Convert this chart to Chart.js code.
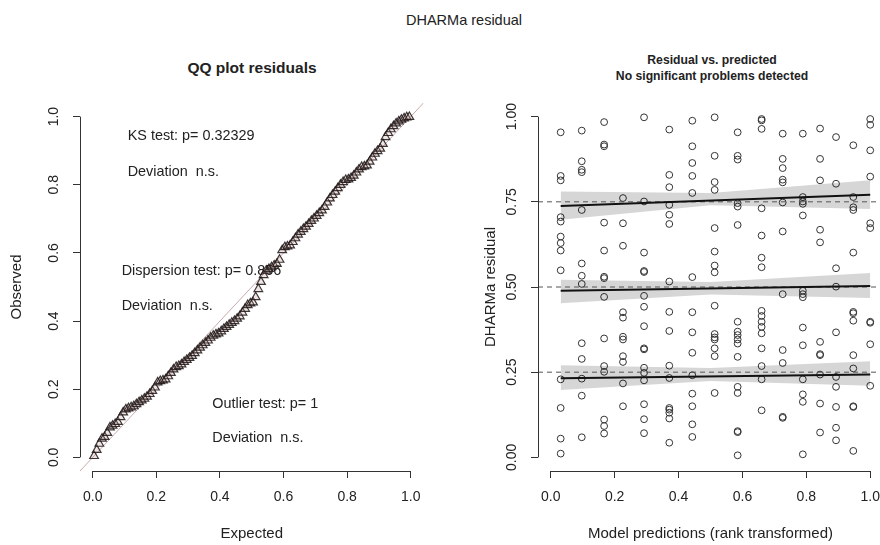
<!DOCTYPE html>
<html>
<head>
<meta charset="utf-8">
<script src="https://cdn.jsdelivr.net/npm/chart.js@4"></script>
<style>
  html, body { margin: 0; padding: 0; width: 880px; height: 545px; overflow: hidden; background: #fff; }
  body { position: relative; font-family: "Liberation Sans", Arial, sans-serif; color: #222; }
  canvas { position: absolute; top: 0; }
  #qq { left: 0; }
  #rv { left: 440px; }
  .txt { position: absolute; white-space: nowrap; transform: translate(-50%, -50%); text-align: center; }
  #main { left: 464px; top: 20px; font-size: 14.5px; }
  #t1 { left: 252px; top: 68px; font-size: 15.5px; font-weight: bold; }
  #t2 { left: 712px; top: 68px; font-size: 12.2px; font-weight: bold; line-height: 16px; }
</style>
</head>
<body>
<div class="txt" id="main">DHARMa residual</div>
<div class="txt" id="t1">QQ plot residuals</div>
<div class="txt" id="t2">Residual vs. predicted<br>No significant problems detected</div>
<canvas id="qq" width="440" height="545"></canvas>
<canvas id="rv" width="460" height="545"></canvas>
<script>
// ---------- QQ panel ----------
// expected uniform quantiles and the sorted scaled residuals
const qqExpected = [
  0.0042, 0.0125, 0.0208, 0.0292, 0.0375, 0.0458, 0.0542, 0.0625, 0.0708, 0.0792,
  0.0875, 0.0958, 0.1042, 0.1125, 0.1208, 0.1292, 0.1375, 0.1458, 0.1542, 0.1625,
  0.1708, 0.1792, 0.1875, 0.1958, 0.2042, 0.2125, 0.2208, 0.2292, 0.2375, 0.2458,
  0.2542, 0.2625, 0.2708, 0.2792, 0.2875, 0.2958, 0.3042, 0.3125, 0.3208, 0.3292,
  0.3375, 0.3458, 0.3542, 0.3625, 0.3708, 0.3792, 0.3875, 0.3958, 0.4042, 0.4125,
  0.4208, 0.4292, 0.4375, 0.4458, 0.4542, 0.4625, 0.4708, 0.4792, 0.4875, 0.4958,
  0.5042, 0.5125, 0.5208, 0.5292, 0.5375, 0.5458, 0.5542, 0.5625, 0.5708, 0.5792,
  0.5875, 0.5958, 0.6042, 0.6125, 0.6208, 0.6292, 0.6375, 0.6458, 0.6542, 0.6625,
  0.6708, 0.6792, 0.6875, 0.6958, 0.7042, 0.7125, 0.7208, 0.7292, 0.7375, 0.7458,
  0.7542, 0.7625, 0.7708, 0.7792, 0.7875, 0.7958, 0.8042, 0.8125, 0.8208, 0.8292,
  0.8375, 0.8458, 0.8542, 0.8625, 0.8708, 0.8792, 0.8875, 0.8958, 0.9042, 0.9125,
  0.9208, 0.9292, 0.9375, 0.9458, 0.9542, 0.9625, 0.9708, 0.9792, 0.9875, 0.9958
];
const qqObserved = [
  0.004, 0.022, 0.040, 0.055, 0.060, 0.072, 0.088, 0.093, 0.098, 0.104,
  0.118, 0.132, 0.141, 0.144, 0.147, 0.150, 0.156, 0.162, 0.167, 0.172,
  0.178, 0.186, 0.195, 0.205, 0.220, 0.224, 0.226, 0.229, 0.238, 0.248,
  0.258, 0.265, 0.268, 0.273, 0.280, 0.286, 0.292, 0.298, 0.306, 0.314,
  0.322, 0.329, 0.336, 0.343, 0.351, 0.357, 0.361, 0.364, 0.370, 0.377,
  0.383, 0.389, 0.395, 0.400, 0.407, 0.414, 0.425, 0.436, 0.447, 0.452,
  0.455, 0.470, 0.494, 0.515, 0.535, 0.548, 0.553, 0.558, 0.563, 0.568,
  0.580, 0.608, 0.617, 0.619, 0.622, 0.632, 0.643, 0.654, 0.662, 0.670,
  0.677, 0.685, 0.694, 0.701, 0.709, 0.717, 0.725, 0.735, 0.748, 0.760,
  0.770, 0.780, 0.790, 0.800, 0.808, 0.814, 0.816, 0.820, 0.827, 0.836,
  0.845, 0.852, 0.854, 0.857, 0.868, 0.880, 0.891, 0.899, 0.906, 0.920,
  0.940, 0.952, 0.963, 0.972, 0.980, 0.986, 0.991, 0.995, 0.998, 0.999
];
const qqLine = [-0.04, 1.04];           // y = x reference
const unitTicks = [0, 0.2, 0.4, 0.6, 0.8, 1];

const testLabels = ["KS test: p= 0.32329", "Deviation  n.s.", "Dispersion test: p= 0.856",
                    "Deviation  n.s.", "Outlier test: p= 1", "Deviation  n.s."];
const testLabelX = [0.110, 0.110, 0.091, 0.091, 0.376, 0.376];
const testLabelY = [0.944, 0.838, 0.547, 0.444, 0.156, 0.056];

// ---------- residual vs predicted panel ----------
const predRank = [0.031, 0.097, 0.167, 0.226, 0.292, 0.371, 0.443, 0.513,
                  0.585, 0.660, 0.726, 0.789, 0.843, 0.893, 0.947, 1.000];
const residuals = [
  [0.954, 0.826, 0.813, 0.705, 0.692, 0.648, 0.629, 0.607, 0.549, 0.229, 0.145, 0.055, 0.011],
  [0.959, 0.869, 0.844, 0.837, 0.726, 0.569, 0.533, 0.509, 0.335, 0.289, 0.231, 0.181, 0.059],
  [0.984, 0.918, 0.913, 0.689, 0.607, 0.530, 0.526, 0.471, 0.349, 0.268, 0.251, 0.111, 0.092, 0.070],
  [0.761, 0.687, 0.621, 0.426, 0.410, 0.354, 0.346, 0.297, 0.280, 0.217, 0.150],
  [0.998, 0.751, 0.601, 0.547, 0.544, 0.474, 0.442, 0.385, 0.320, 0.317, 0.263, 0.248, 0.226, 0.156, 0.112, 0.071],
  [0.962, 0.829, 0.793, 0.741, 0.712, 0.685, 0.516, 0.427, 0.371, 0.269, 0.233, 0.145, 0.140, 0.131, 0.114, 0.043],
  [0.988, 0.913, 0.864, 0.826, 0.776, 0.529, 0.426, 0.367, 0.307, 0.241, 0.187, 0.150, 0.097, 0.060],
  [0.998, 0.885, 0.808, 0.785, 0.673, 0.604, 0.563, 0.543, 0.445, 0.362, 0.352, 0.346, 0.320, 0.297, 0.189],
  [0.954, 0.885, 0.874, 0.746, 0.736, 0.682, 0.398, 0.369, 0.359, 0.346, 0.334, 0.295, 0.207, 0.189, 0.077, 0.074, 0.006],
  [0.993, 0.989, 0.964, 0.731, 0.651, 0.586, 0.558, 0.430, 0.415, 0.398, 0.383, 0.364, 0.320, 0.268, 0.229, 0.138],
  [0.950, 0.876, 0.849, 0.815, 0.807, 0.748, 0.663, 0.479, 0.315, 0.277, 0.119, 0.116],
  [0.950, 0.764, 0.751, 0.744, 0.710, 0.489, 0.479, 0.470, 0.381, 0.329, 0.229, 0.185, 0.163, 0.009],
  [0.965, 0.876, 0.813, 0.668, 0.631, 0.339, 0.303, 0.300, 0.243, 0.158, 0.073],
  [0.940, 0.803, 0.555, 0.501, 0.367, 0.236, 0.207, 0.148, 0.087, 0.050],
  [0.916, 0.764, 0.734, 0.726, 0.601, 0.427, 0.423, 0.401, 0.300, 0.261, 0.150, 0.148, 0.019],
  [0.993, 0.976, 0.901, 0.824, 0.687, 0.673, 0.398, 0.395, 0.332, 0.210]
];

const quantiles = [0.25, 0.5, 0.75];
const qLineX = [0.031, 1.0];
const qLineY = [[0.232, 0.243], [0.489, 0.503], [0.738, 0.771]];
const bandX = [0.031, 0.5, 1.0];
const bandHi = [[0.270, 0.262, 0.282], [0.521, 0.515, 0.541], [0.780, 0.776, 0.813]];
const bandLo = [[0.198, 0.224, 0.210], [0.452, 0.478, 0.468], [0.697, 0.740, 0.729]];
const quarterTicks = [0, 0.25, 0.5, 0.75, 1];

// ---------- shared styling ----------
const FONT = "'Liberation Sans', Arial, sans-serif";
Chart.defaults.font.family = FONT;
Chart.defaults.color = "#222";

const xy = (xs, ys) => xs.map((x, i) => ({ x, y: ys[i] }));

function rAxis(opts) {
  // R-style axis: outward ticks, no box, labels only at the given ticks
  return {
    type: "linear",
    position: opts.position,
    min: -0.04, max: 1.04,
    afterBuildTicks: s => { s.ticks = opts.ticks.map(v => ({ value: v })); },
    afterFit: s => { if (opts.position === "left") s.width = opts.size; else s.height = opts.size; },
    grid: { drawOnChartArea: false, drawTicks: true, tickLength: 7, color: "#333" },
    border: { display: false },
    ticks: {
      autoSkip: false, font: { size: 14 }, color: "#222", padding: opts.pad,
      minRotation: opts.rot, maxRotation: opts.rot, crossAlign: "center",
      callback: v => v.toFixed(opts.digits)
    },
    title: { display: true, text: opts.title, font: { size: 15 }, color: "#222", padding: opts.titlePad }
  };
}

// axis lines span first to last tick only, as in base R
const axisLines = {
  id: "axisLines",
  afterDraw(chart) {
    const { ctx, chartArea: a, scales: { x, y } } = chart;
    const px = v => Math.round(v) + 0.5;
    ctx.save();
    ctx.strokeStyle = "#333";
    ctx.lineWidth = 1;
    ctx.beginPath();
    ctx.moveTo(x.getPixelForValue(x.ticks[0].value), px(a.bottom));
    ctx.lineTo(x.getPixelForValue(x.ticks[x.ticks.length - 1].value), px(a.bottom));
    ctx.moveTo(px(a.left), y.getPixelForValue(y.ticks[0].value));
    ctx.lineTo(px(a.left), y.getPixelForValue(y.ticks[y.ticks.length - 1].value));
    ctx.stroke();
    ctx.restore();
  }
};

const testText = {
  id: "testText",
  beforeDatasetsDraw(chart) {
    const { ctx, scales: { x, y } } = chart;
    ctx.save();
    ctx.font = "14.4px " + FONT;
    ctx.fillStyle = "#222";
    ctx.textBaseline = "middle";
    testLabels.forEach((t, i) => ctx.fillText(t, x.getPixelForValue(testLabelX[i]), y.getPixelForValue(testLabelY[i])));
    ctx.restore();
  }
};

const base = {
  responsive: false, animation: false, events: [],
  plugins: { legend: { display: false }, tooltip: { enabled: false } }
};

// ---------- QQ chart ----------
new Chart(document.getElementById("qq"), {
  type: "line",
  data: {
    datasets: [
      {
        data: xy(qqExpected, qqObserved), showLine: false,
        pointStyle: "triangle", pointRadius: 5, pointBorderWidth: 1.2,
        borderColor: "rgba(30,22,22,0.85)", backgroundColor: "rgba(190,150,150,0.25)", order: 1
      },
      {
        data: xy(qqLine, qqLine), borderColor: "#c9abab", borderWidth: 1,
        pointRadius: 0, order: 2
      }
    ]
  },
  options: {
    ...base,
    layout: { padding: { top: 103, right: 15, left: 0, bottom: 0 } },
    scales: {
      x: rAxis({ position: "bottom", ticks: unitTicks, size: 74, pad: 19, rot: 0, digits: 1,
                 title: "Expected", titlePad: { top: 0, bottom: 2 } }),
      y: rAxis({ position: "left", ticks: unitTicks, size: 80, pad: 9, rot: 90, digits: 1,
                 title: "Observed", titlePad: { top: 8, bottom: 0 } })
    }
  },
  plugins: [axisLines, testText]
});

// ---------- residual vs predicted chart ----------
const rvSets = [{
  data: predRank.flatMap((x, i) => residuals[i].map(y => ({ x, y }))),
  showLine: false, pointStyle: "circle", pointRadius: 3.4, pointBorderWidth: 1,
  borderColor: "#333", backgroundColor: "rgba(0,0,0,0)", order: 10
}];
quantiles.forEach((q, k) => {
  rvSets.push({ data: xy(bandX, bandHi[k]), borderWidth: 0, borderColor: "rgba(0,0,0,0)", pointRadius: 0, order: 5 });
  rvSets.push({ data: xy(bandX, bandLo[k]), borderWidth: 0, borderColor: "rgba(0,0,0,0)", pointRadius: 0,
                fill: "-1", backgroundColor: "rgba(0,0,0,0.16)", order: 5 });
  rvSets.push({ data: xy(qLineX, qLineY[k]), borderColor: "#111", borderWidth: 2, pointRadius: 0, order: 1 });
  rvSets.push({ data: xy(qqLine, [q, q]), borderColor: "#555", borderWidth: 1, borderDash: [5, 4],
                pointRadius: 0, order: 2 });
});

new Chart(document.getElementById("rv"), {
  type: "line",
  data: { datasets: rvSets },
  options: {
    ...base,
    layout: { padding: { top: 103, right: 17, left: 0, bottom: 0 } },
    scales: {
      x: rAxis({ position: "bottom", ticks: unitTicks, size: 74, pad: 19, rot: 0, digits: 1,
                 title: "Model predictions (rank transformed)", titlePad: { top: 0, bottom: 2 } }),
      y: rAxis({ position: "left", ticks: quarterTicks, size: 98, pad: 5, rot: 90, digits: 2,
                 title: "DHARMa residual", titlePad: { top: 42, bottom: 0 } })
    }
  },
  plugins: [axisLines]
});
</script>
</body>
</html>
